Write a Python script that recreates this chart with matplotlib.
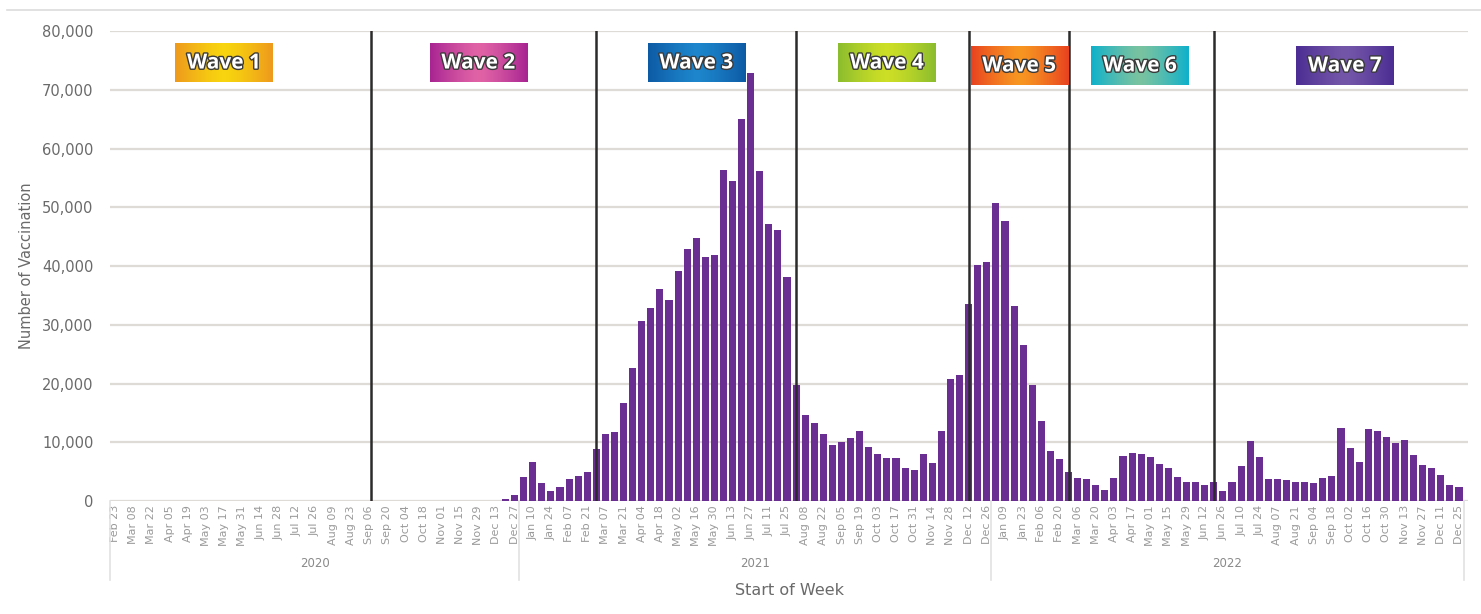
import matplotlib.pyplot as plt
import matplotlib.patheffects as pe
import matplotlib.transforms as mtransforms
from matplotlib.colors import to_rgb
import numpy as np
import pandas as pd

# weekly axis: every week from Feb 23 2020 to Dec 25 2022
weeks = pd.date_range('2020-02-23', '2022-12-25', freq='7D')

# vaccinations per week, starting with the week of Dec 20 2020 (earlier weeks are zero)
first_week = '2020-12-20'
vaccinations = [
    300, 1100, 4100, 6600, 3000, 1700, 2400, 3700, 4300, 4900,
    8800, 11400, 11700, 16700, 22700, 30600, 32800, 36100, 34300, 39100,
    42900, 44800, 41600, 41900, 56300, 54500, 65000, 72900, 56200, 47100,
    46200, 38200, 19700, 14600, 13200, 11400, 9500, 10000, 10800, 12000,
    9200, 8000, 7400, 7400, 5700, 5300, 8000, 6400, 12000, 20700,
    21400, 33500, 40200, 40700, 50700, 47700, 33200, 26600, 19700, 13700,
    8500, 7100, 5000, 4000, 3700, 2800, 1900, 4000, 7700, 8200,
    8000, 7500, 6300, 5700, 4100, 3200, 3200, 2700, 3300, 1700,
    3200, 6000, 10300, 7500, 3700, 3700, 3600, 3300, 3300, 3000,
    4000, 4300, 12500, 9000, 6700, 12200, 11900, 10900, 9800, 10400,
    7800, 6200, 5600, 4400, 2800, 2400,
]

# weeks where a new wave begins
wave_starts = ['2020-09-07', '2021-02-28', '2021-08-01', '2021-12-12', '2022-02-27', '2022-06-19']

# wave label boxes: name, centre week, edge colour, centre colour
wave_names = ['Wave 1', 'Wave 2', 'Wave 3', 'Wave 4', 'Wave 5', 'Wave 6', 'Wave 7']
wave_label_weeks = ['2020-05-17', '2020-11-29', '2021-05-16', '2021-10-10', '2022-01-20', '2022-04-23', '2022-09-28']
wave_edge = ['#ee9a1c', '#a82592', '#0d5aa5', '#8cbd2e', '#e8431f', '#0fb1cb', '#4b2d93']
wave_mid = ['#f8d50f', '#e163a6', '#1d86cc', '#cddf26', '#f89622', '#79c3a0', '#7456a9']
year_labels = ['2020', '2021', '2022']

n = len(weeks)
values = np.zeros(n)
start = weeks.get_loc(pd.Timestamp(first_week))
values[start:start + len(vaccinations)] = vaccinations
x = np.arange(n)


def week_pos(d):
    # fractional position of a date on the weekly axis
    return (pd.Timestamp(d) - weeks[0]).days / 7.0


fig = plt.figure(figsize=(14.81, 6.14), dpi=100)
ax = fig.add_axes([0.0743, 0.184, 0.917, 0.7655])

ax.bar(x, values, width=0.78, color='#6a2d91', zorder=2)

for d in wave_starts:
    ax.axvline(week_pos(d), color='#2b2b2b', lw=1.8, zorder=4)

# gridlines and axes styling
ax.set_yticks(np.arange(0, 80001, 10000))
ax.set_yticklabels([f'{v:,}' for v in range(0, 80001, 10000)], fontsize=10.5, color='#6a6a6a')
ax.yaxis.grid(True, color='#dedad6', lw=1.6, zorder=0)
ax.set_axisbelow(True)
for s in ax.spines.values():
    s.set_visible(False)
ax.tick_params(axis='y', length=0, pad=12)

ax.set_xticks(x[::2])
ax.set_xticklabels([d.strftime('%b %d') for d in weeks[::2]], rotation=90,
                   fontsize=8, color='#9a9a9a')
ax.tick_params(axis='x', length=0, pad=3)

# year groups under the week labels
trans = mtransforms.blended_transform_factory(ax.transData, ax.transAxes)
years = weeks.year
bounds = [-0.5]
for i, yr in enumerate(year_labels):
    idx = np.where(years == int(yr))[0]
    lo, hi = idx[0] - 0.5, idx[-1] + 0.5
    bounds.append(hi)
    ax.text((lo + hi) / 2, -0.132, yr, transform=trans, ha='center', va='center',
            fontsize=8.5, color='#8a8a8a')
for b in bounds:
    ax.plot([b, b], [0, -0.168], transform=trans, color='#e2e2e2', lw=1.2, clip_on=False)

fig.text(0.533, 0.039, 'Start of Week', ha='center', va='center', fontsize=11.5, color='#6a6a6a')
fig.text(0.018, 0.568, 'Number of Vaccination', rotation=90, ha='center', va='center',
         fontsize=10.5, color='#6a6a6a')

# thin rule across the top
fig.add_artist(plt.Line2D([0.005, 1.0], [0.984, 0.984], color='#dcdcdc', lw=1.2))

# wave label boxes with a soft horizontal gradient
box_w = 10.7
for i, (name, wk) in enumerate(zip(wave_names, wave_label_weeks)):
    cx = week_pos(wk)
    if i < 4:
        y0, y1 = 71300, 77800
    else:
        y0, y1 = 70800, 77300
    t = np.abs(np.linspace(-1, 1, 64)) ** 1.3
    c0, c1 = np.array(to_rgb(wave_mid[i])), np.array(to_rgb(wave_edge[i]))
    grad = (c0[None, :] * (1 - t[:, None]) + c1[None, :] * t[:, None])[None, :, :]
    ax.imshow(grad, extent=[cx - box_w / 2, cx + box_w / 2, y0, y1], aspect='auto',
              zorder=5, interpolation='bilinear')
    ax.text(cx, (y0 + y1) / 2, name, ha='center', va='center', fontsize=15,
            fontweight='bold', family='Open Sans', color='white', zorder=6,
            path_effects=[pe.withStroke(linewidth=2.0, foreground='#3a3a3a')])

ax.set_xlim(-0.55, n - 0.0)
ax.set_ylim(0, 80000)

fig.savefig('out.png', dpi=100)
